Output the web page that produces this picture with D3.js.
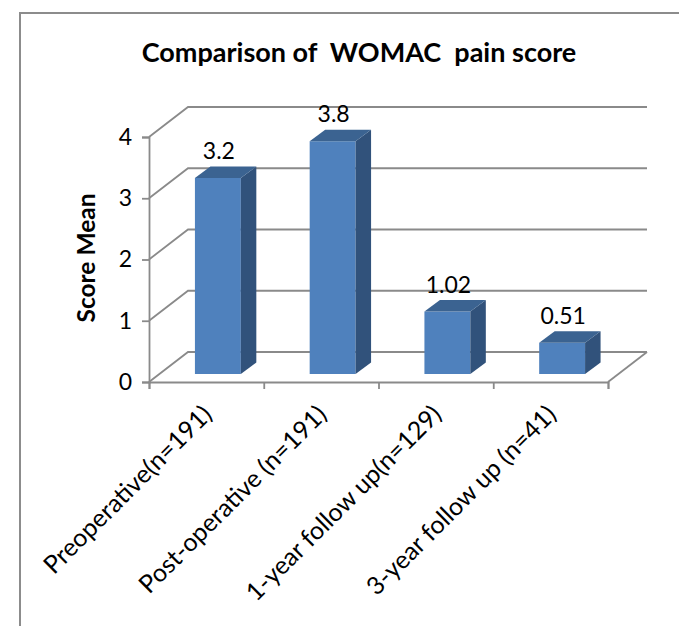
<!DOCTYPE html>
<html>
<head>
<meta charset="utf-8">
<script src="https://cdn.jsdelivr.net/npm/d3@7"></script>
<style>
    html, body { margin: 0; padding: 0; background: #fff; }
    svg { display: block; }
    text { font-family: Lato, "Open Sans", sans-serif; fill: #000; }
</style>
</head>
<body>
<script>
var categories = ["Preoperative(n=191)", "Post-operative (n=191)", "1-year follow up(n=129)", "3-year follow up (n=41)"];
var scores = [3.2, 3.8, 1.02, 0.51];
var scoreLabels = ["3.2", "3.8", "1.02", "0.51"];
var yTicks = [0, 1, 2, 3, 4];
var titleText = "Comparison of  WOMAC  pain score";
var yTitle = "Score Mean";

//Width and height
var w = 679;
var h = 626;
var lineColor = "#8a8a8a";

// Depth of the floor, and of each bar, in the fake 3d projection
var floorDx = 39, floorDy = -30;
var barDx = 15.5, barDy = -11.5;
var barShiftX = 11.5, barShiftY = -8;

var svg = d3.select("body")
    .append("svg")
    .attr("width", w)
    .attr("height", h);

// Crate Scales
var xScale = d3.scaleBand()
    .domain(categories)
    .range([149, 608])
    .paddingInner(0)
    .paddingOuter(0);

var xEdge = d3.scaleLinear()
    .domain([0, categories.length])
    .range([149, 608]);

var yScale = d3.scaleLinear()
    .domain([0, 4])
    .range([382, 137]);

var barWidth = xScale.bandwidth() * 0.4;

// Chart border
svg.append("path")
    .attr("d", "M20,626V13H679")
    .attr("fill", "none")
    .attr("stroke", "#8c8c8c")
    .attr("stroke-width", 2);

// Back wall grid lines and the slanted side wall
var grid = svg.append("g")
    .attr("fill", "none")
    .attr("stroke", lineColor)
    .attr("stroke-width", 1.8);

grid.selectAll("path")
    .data(yTicks)
    .enter()
    .append("path")
    .attr("d", function (d) {
        var line = d3.path();
        line.moveTo(xEdge(0), yScale(d));
        line.lineTo(xEdge(0) + floorDx, yScale(d) + floorDy);
        line.lineTo(xEdge(categories.length) + floorDx, yScale(d) + floorDy);
        return line.toString();
    });

// Right edge of the floor
grid.append("line")
    .attr("x1", xEdge(categories.length))
    .attr("y1", yScale(0))
    .attr("x2", xEdge(categories.length) + floorDx)
    .attr("y2", yScale(0) + floorDy);

// Creatate Axis
var yAxis = d3.axisLeft(yScale)
    .tickValues(yTicks)
    .tickSize(7)
    .tickPadding(10)
    .tickFormat(d3.format("d"));

var xAxis = d3.axisBottom(xEdge)
    .ticks(categories.length)
    .tickSize(7)
    .tickFormat("");

var gy = svg.append("g")
    .attr("transform", "translate(" + xEdge(0) + ",0)")
    .call(yAxis);

var gx = svg.append("g")
    .attr("transform", "translate(0," + yScale(0) + ")")
    .call(xAxis);

[gx, gy].forEach(function (g) {
    g.selectAll("path, line")
        .attr("stroke", lineColor)
        .attr("stroke-width", 1.8);
});

gy.selectAll("text")
    .style("font-size", "23px")
    .attr("fill", "#000");

// Bars: front, side and top faces
var bars = svg.selectAll("g.bar")
    .data(scores)
    .enter()
    .append("g")
    .attr("class", "bar");

function barLeft(i) {
    return xScale(categories[i]) + (xScale.bandwidth() - barWidth) / 2 + barShiftX;
}

bars.append("rect")
    .attr("x", function (d, i) { return barLeft(i); })
    .attr("y", function (d) { return yScale(d) + barShiftY; })
    .attr("width", barWidth)
    .attr("height", function (d) { return yScale(0) - yScale(d); })
    .attr("fill", "#4f81bd");

bars.append("path")
    .attr("fill", "#31527b")
    .attr("d", function (d, i) {
        var x = barLeft(i) + barWidth;
        var top = yScale(d) + barShiftY;
        var bottom = yScale(0) + barShiftY;
        return "M" + x + "," + top + "l" + barDx + "," + barDy + "V" + (bottom + barDy) + "L" + x + "," + bottom + "Z";
    });

bars.append("path")
    .attr("fill", "#3b6391")
    .attr("d", function (d, i) {
        var x = barLeft(i);
        var top = yScale(d) + barShiftY;
        return "M" + x + "," + top + "l" + barDx + "," + barDy + "h" + barWidth + "l" + (-barDx) + "," + (-barDy) + "Z";
    });

// Value labels
bars.append("text")
    .text(function (d, i) { return scoreLabels[i]; })
    .attr("text-anchor", "middle")
    .attr("x", function (d, i) { return barLeft(i) + barWidth / 2 + 1; })
    .attr("y", function (d) { return yScale(d) + barShiftY - 19; })
    .style("font-size", "23px");

// Category labels
svg.selectAll("text.category")
    .data(categories)
    .enter()
    .append("text")
    .attr("class", "category")
    .text(function (d) { return d; })
    .attr("text-anchor", "end")
    .attr("transform", function (d) {
        var x = xScale(d) + xScale.bandwidth() / 2 + 7;
        return "translate(" + x + ",416) rotate(-45)";
    })
    .style("font-size", "25px");

// Title
svg.append("text")
    .text(titleText)
    .attr("x", 359)
    .attr("y", 62)
    .attr("text-anchor", "middle")
    .style("white-space", "pre")
    .style("font-weight", "bold")
    .style("font-size", "27px");

svg.append("text")
    .text(yTitle)
    .attr("text-anchor", "middle")
    .attr("transform", "translate(95,258) rotate(-90)")
    .style("font-weight", "bold")
    .style("font-size", "24.5px");
</script>
</body>
</html>
